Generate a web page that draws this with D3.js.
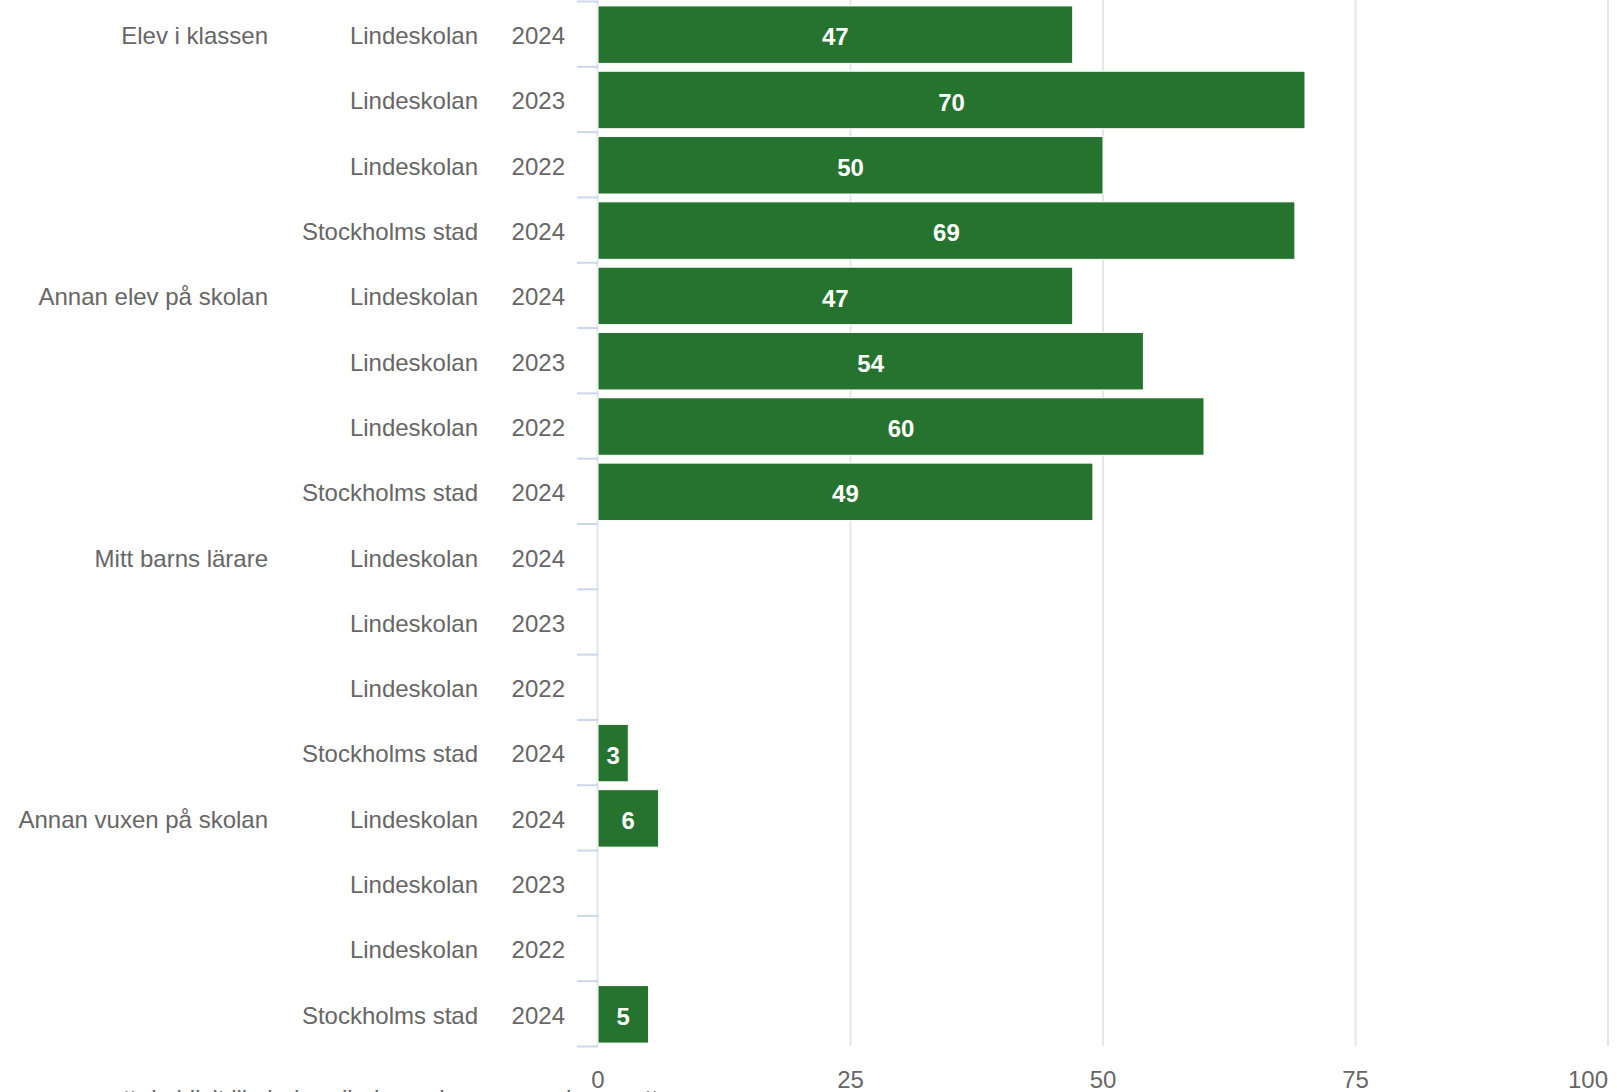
<!DOCTYPE html>
<html>
<head>
<meta charset="utf-8">
<script src="https://cdn.jsdelivr.net/npm/d3@7"></script>
<style>
    body { margin: 0; background: #fff; }
    text { font-family: "Liberation Sans", Arial, sans-serif; }
</style>
</head>
<body>
<div id="cnt"></div>
<script>
const groups = ['Elev i klassen', 'Annan elev på skolan', 'Mitt barns lärare', 'Annan vuxen på skolan']
const units = ['Lindeskolan', 'Lindeskolan', 'Lindeskolan', 'Stockholms stad']
const years = ['2024', '2023', '2022', '2024']
const values = [
    47, 70, 50, 69,
    47, 54, 60, 49,
    null, null, null, 3,
    6, null, null, 5
]
const xTicks = [0, 25, 50, 75, 100]
const axisTitle = 'att de blivit illa behandlade av den person de angett'

const width = 1617
const height = 1092
const barColor = '#26722f'
const labelColor = '#666666'
const gridColor = '#e6e6e6'
const tickColor = '#ccd6eb'

// one row per group x unit/year
const rows = []
groups.forEach((g, gi) => {
    units.forEach((u, ui) => {
        rows.push({
            id: gi * units.length + ui,
            group: ui === 0 ? g : '',
            unit: u,
            year: years[ui],
            value: values[gi * units.length + ui]
        })
    })
})

const x = d3.scaleLinear().domain([0, 100]).range([598, 1608])
const y = d3.scaleBand()
    .domain(rows.map(d => d.id))
    .range([1, 1046])
    .paddingInner(0.12)
    .paddingOuter(0.06)

const svg = d3.select('#cnt')
    .append('svg')
    .attr('width', width)
    .attr('height', height)

// grid
svg.append('g')
    .selectAll('line')
    .data(xTicks.slice(1))
    .join('line')
    .attr('x1', d => x(d))
    .attr('x2', d => x(d))
    .attr('y1', 0)
    .attr('y2', 1046)
    .attr('stroke', gridColor)
    .attr('stroke-width', 2)

// category axis line
svg.append('line')
    .attr('x1', x(0) - 0.5)
    .attr('x2', x(0) - 0.5)
    .attr('y1', 0)
    .attr('y2', 1046)
    .attr('stroke', '#e2e4ea')
    .attr('stroke-width', 2)

// row separator ticks
const step = y.step()
const bounds = rows.map(d => y(d.id) - y.paddingInner() * step / 2).concat([1046])
svg.append('g')
    .selectAll('line')
    .data(bounds)
    .join('line')
    .attr('x1', 577)
    .attr('x2', x(0))
    .attr('y1', d => d + 0.5)
    .attr('y2', d => d + 0.5)
    .attr('stroke', tickColor)
    .attr('stroke-width', 2)

// bars
const withValue = rows.filter(d => d.value != null)
svg.append('g')
    .selectAll('rect')
    .data(withValue)
    .join('rect')
    .attr('x', x(0))
    .attr('y', d => y(d.id) + 1)
    .attr('width', d => x(d.value) - x(0))
    .attr('height', y.bandwidth())
    .attr('fill', barColor)
    .attr('stroke', '#ffffff')
    .attr('stroke-width', 1)

svg.append('g')
    .selectAll('text')
    .data(withValue)
    .join('text')
    .attr('x', d => (x(d.value) + x(0)) / 2)
    .attr('y', d => y(d.id) + y.bandwidth() / 2 + 3)
    .attr('dy', '0.36em')
    .attr('text-anchor', 'middle')
    .attr('fill', '#ffffff')
    .style('font-size', '24px')
    .style('font-weight', 'bold')
    .text(d => d.value)

// row labels, three columns
const labelCols = [
    { key: 'group', x: 268 },
    { key: 'unit', x: 478 },
    { key: 'year', x: 565 }
]
for (const col of labelCols) {
    svg.append('g')
        .selectAll('text')
        .data(rows)
        .join('text')
        .attr('x', col.x)
        .attr('y', d => y(d.id) + y.bandwidth() / 2 + 2)
        .attr('dy', '0.35em')
        .attr('text-anchor', 'end')
        .attr('fill', labelColor)
        .style('font-size', '24px')
        .text(d => d[col.key])
}

// value axis labels
svg.append('g')
    .selectAll('text')
    .data(xTicks)
    .join('text')
    .attr('x', d => x(d))
    .attr('y', 1088)
    .attr('text-anchor', d => d === 100 ? 'end' : 'middle')
    .attr('fill', labelColor)
    .style('font-size', '24px')
    .text(d => d)

// axis title, mostly below the visible area
svg.append('text')
    .attr('x', 384)
    .attr('y', 1107)
    .attr('text-anchor', 'middle')
    .attr('fill', labelColor)
    .style('font-size', '24px')
    .text(axisTitle)
</script>
</body>
</html>
